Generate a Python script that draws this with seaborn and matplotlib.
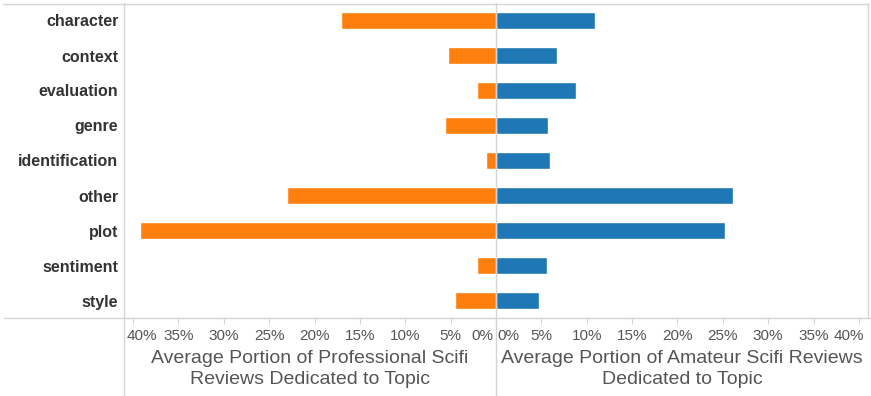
import pandas as pd
import matplotlib.pyplot as plt
import matplotlib.transforms as mtransforms
import seaborn as sns
from matplotlib.lines import Line2D

# Topic shares (percent of review)
topics = ['character', 'context', 'evaluation', 'genre', 'identification',
          'other', 'plot', 'sentiment', 'style']
professional = [17.1, 5.3, 2.1, 5.6, 1.1, 23.0, 39.2, 2.1, 4.5]
amateur = [10.9, 6.7, 8.8, 5.7, 6.0, 26.1, 25.2, 5.6, 4.7]
tick_values = [0, 5, 10, 15, 20, 25, 30, 35, 40]

df = pd.DataFrame({'topic': topics,
                   'professional': professional,
                   'amateur': amateur})

sns.set_style('white')
plt.rcParams['font.family'] = ['Liberation Sans', 'DejaVu Sans']

W, H = 871, 396
fig = plt.figure(figsize=(W / 100, H / 100), dpi=100)


def fx(x):
    return x / W


def fy(y):
    return 1 - y / H


grid_color = '#d4d4d4'
text_gray = '#555555'

# left panel: professional (orange, reversed axis), right panel: amateur (blue)
ax_l = fig.add_axes([fx(124), fy(318), (496 - 124) / W, (318 - 3) / H])
ax_r = fig.add_axes([fx(496), fy(318), (868 - 496) / W, (318 - 3) / H])

sns.barplot(data=df, y='topic', x='professional', color='#ff7f0e',
            saturation=1, width=0.51, ax=ax_l)
sns.barplot(data=df, y='topic', x='amateur', color='#1f77b4',
            saturation=1, width=0.51, ax=ax_r)

ax_l.set_xlim(41, 0)
ax_r.set_xlim(0, 41)

for ax in (ax_l, ax_r):
    ax.set_ylim(len(topics) - 0.5, -0.5)
    for s in ax.spines.values():
        s.set_visible(False)
    ax.set_xticks(tick_values)
    ax.set_xticklabels([f'{v}%' for v in tick_values])
    ax.tick_params(axis='x', bottom=True, length=4, width=0.8, color=grid_color,
                   labelsize=11, labelcolor=text_gray, pad=4)
    ax.set_ylabel('')
    ax.set_facecolor('none')


def nudge(label, ha, dx_px):
    label.set_horizontalalignment(ha)
    off = mtransforms.ScaledTranslation(dx_px / 100, 0, fig.dpi_scale_trans)
    label.set_transform(label.get_transform() + off)


# keep the edge labels inside each pane, like the original
lab_l = ax_l.get_xticklabels()
nudge(lab_l[0], 'right', -3)
nudge(lab_l[-1], 'left', -6)
lab_r = ax_r.get_xticklabels()
nudge(lab_r[0], 'left', 1)
nudge(lab_r[-1], 'right', 5)

ax_l.set_xlabel('Average Portion of Professional Scifi\nReviews Dedicated to Topic',
                fontsize=14, color=text_gray, labelpad=5, linespacing=1.3)
ax_r.set_xlabel('Average Portion of Amateur Scifi Reviews\nDedicated to Topic',
                fontsize=14, color=text_gray, labelpad=5, linespacing=1.3)

ax_l.tick_params(axis='y', left=False, length=0, pad=4)
ax_l.set_yticks(range(len(topics)))
ax_l.set_yticklabels(topics, fontsize=11.5, fontweight='bold', color='#333333')
ax_r.set_yticks([])

# frame and divider lines
frame = [
    ((3, 868), (3.5, 3.5)),
    ((4, 871), (318, 318)),
    ((124, 124), (3, 396)),
    ((496, 496), (3, 396)),
    ((868, 868), (3, 318)),
]
for xs, ys in frame:
    fig.add_artist(Line2D([fx(x) for x in xs], [fy(y) for y in ys],
                          color=grid_color, linewidth=1, zorder=10))

fig.savefig('out.png', dpi=100)
